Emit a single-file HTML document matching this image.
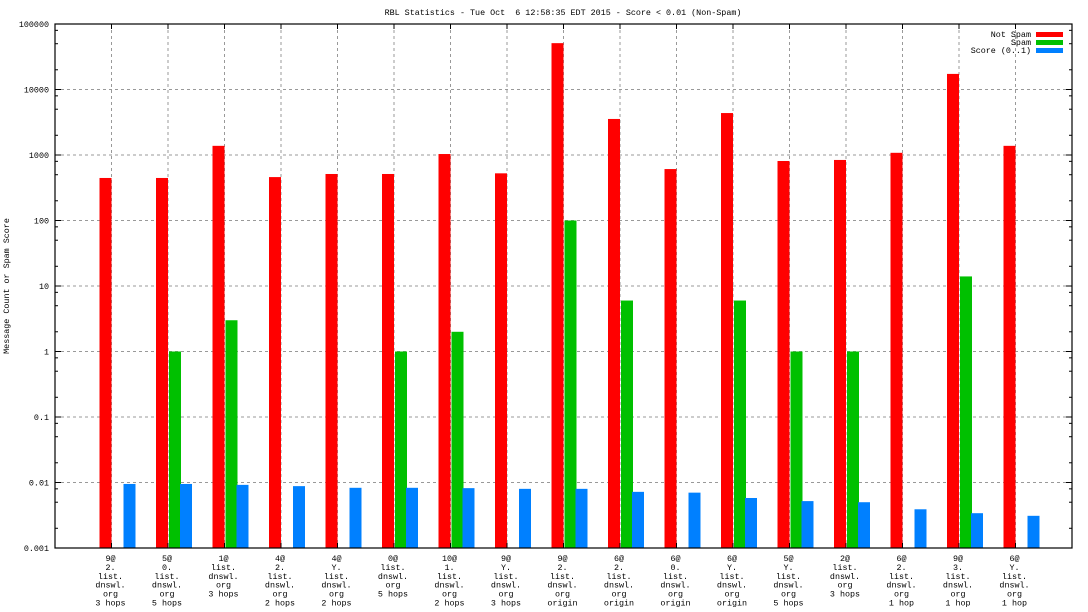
<!DOCTYPE html>
<html><head><meta charset="utf-8"><style>
html,body{margin:0;padding:0;background:#fff;}
svg{display:block;font-family:"Liberation Mono",monospace;}
text{white-space:pre;}
</style></head><body>
<svg id="chart" width="1088" height="612" xmlns="http://www.w3.org/2000/svg">
<rect width="1088" height="612" fill="#fff"/>
<text x="563" y="15" font-size="8.4" text-anchor="middle" xml:space="preserve">RBL Statistics - Tue Oct  6 12:58:35 EDT 2015 - Score &lt; 0.01 (Non-Spam)</text>
<text transform="translate(9,286) rotate(-90)" font-size="8.4" text-anchor="middle">Message Count or Spam Score</text>
<g id="grid"></g><g id="bars"></g><g id="axes"></g>
<g>
<text x="1031" y="37" font-size="8.4" text-anchor="end">Not Spam</text>
<rect x="1036" y="32" width="27" height="5" fill="#ff0000"/>
<text x="1031" y="45" font-size="8.4" text-anchor="end">Spam</text>
<rect x="1036" y="40" width="27" height="5" fill="#00c000"/>
<text x="1031" y="53" font-size="8.4" text-anchor="end">Score (0..1)</text>
<rect x="1036" y="48" width="27" height="5" fill="#0080ff"/>
</g>
</svg>
<script>
const categories = [
 ["9@","2.","list.","dnswl.","org","3 hops"],
 ["5@","0.","list.","dnswl.","org","5 hops"],
 ["1@","list.","dnswl.","org","3 hops"],
 ["4@","2.","list.","dnswl.","org","2 hops"],
 ["4@","Y.","list.","dnswl.","org","2 hops"],
 ["0@","list.","dnswl.","org","5 hops"],
 ["10@","1.","list.","dnswl.","org","2 hops"],
 ["9@","Y.","list.","dnswl.","org","3 hops"],
 ["9@","2.","list.","dnswl.","org","origin"],
 ["6@","2.","list.","dnswl.","org","origin"],
 ["6@","0.","list.","dnswl.","org","origin"],
 ["6@","Y.","list.","dnswl.","org","origin"],
 ["5@","Y.","list.","dnswl.","org","5 hops"],
 ["2@","list.","dnswl.","org","3 hops"],
 ["6@","2.","list.","dnswl.","org","1 hop"],
 ["9@","3.","list.","dnswl.","org","1 hop"],
 ["6@","Y.","list.","dnswl.","org","1 hop"]
];
const notSpam = [446,446,1380,460,513,513,1035,525,51000,3550,610,4370,810,840,1080,17300,1380];
const spam = [0,1,3,0,0,1,2,0,100,6,0,6,1,1,0,14,0];
const score = [0.0095,0.0095,0.0092,0.0088,0.0083,0.0083,0.0082,0.008,0.008,0.0072,0.007,0.0058,0.0052,0.005,0.0039,0.0034,0.0031];
const yTicks = ["0.001","0.01","0.1","1","10","100","1000","10000","100000"];

const NS="http://www.w3.org/2000/svg";
const L=55,R=1072,T=24,B=548;
const yMin=-3,yMax=5;
function y(v){return B-(Math.log10(v)-yMin)/(yMax-yMin)*(B-T);}
function xc(i){return L+(i+1)*(R-L)/(categories.length+1);}
function mk(tag,attrs,parent){const e=document.createElementNS(NS,tag);for(const k in attrs)e.setAttribute(k,attrs[k]);parent.appendChild(e);return e;}
const grid=document.getElementById('grid'),bars=document.getElementById('bars'),axes=document.getElementById('axes');
yTicks.forEach(t=>{
 const v=parseFloat(t),yy=y(v);
 if(yy>T+1&&yy<B-1){const g=mk('line',{x1:L,x2:R,y1:yy,y2:yy,stroke:'#999','stroke-dasharray':'3,3','stroke-width':1},grid);
 
 }
 const tx=mk('text',{x:L-6,y:yy+3,'font-size':8.4,'text-anchor':'end'},axes);tx.textContent=t;
 
 
 mk('line',{x1:L,x2:L+6,y1:yy,y2:yy,stroke:'#000'},axes);
 mk('line',{x1:R-6,x2:R,y1:yy,y2:yy,stroke:'#000'},axes);
 if(v<100000){[2,5,8].forEach(m=>{const my=y(v*m);mk('line',{x1:L,x2:L+3,y1:my,y2:my,stroke:'#000'},axes);mk('line',{x1:R-3,x2:R,y1:my,y2:my,stroke:'#000'},axes);});}
});
categories.forEach((c,i)=>{
 const cx=xc(i);
 const g=mk('line',{x1:cx,x2:cx,y1:T,y2:B,stroke:'#999','stroke-dasharray':'3,3'},grid);
 
 
 mk('line',{x1:cx,x2:cx,y1:T,y2:T+5,stroke:'#000'},axes);
 mk('line',{x1:cx,x2:cx,y1:B-5,y2:B,stroke:'#000'},axes);
 const series=[[notSpam[i],'#ff0000',-12,'bar-not-spam'],[spam[i],'#00c000',1,'bar-spam'],[score[i],'#0080ff',12,'bar-score']];
 series.forEach(s=>{
  if(s[0]>0){const top=Math.max(y(s[0]),T);const r=mk('rect',{x:cx+s[2],y:top,width:12,height:B-top,fill:s[1]},bars);
  
  }
 });
 const t=mk('text',{x:cx-1,y:B+13,'font-size':8.4,'text-anchor':'middle'},axes);
 
 
 c.forEach((line,j)=>{const ts=mk('tspan',{x:cx-1,dy:j?8.9:0},t);ts.textContent=line;});
});
const f=mk('rect',{x:L,y:T,width:R-L,height:B-T,fill:'none',stroke:'#000','stroke-width':1.2},axes);


</script>
</body></html>
